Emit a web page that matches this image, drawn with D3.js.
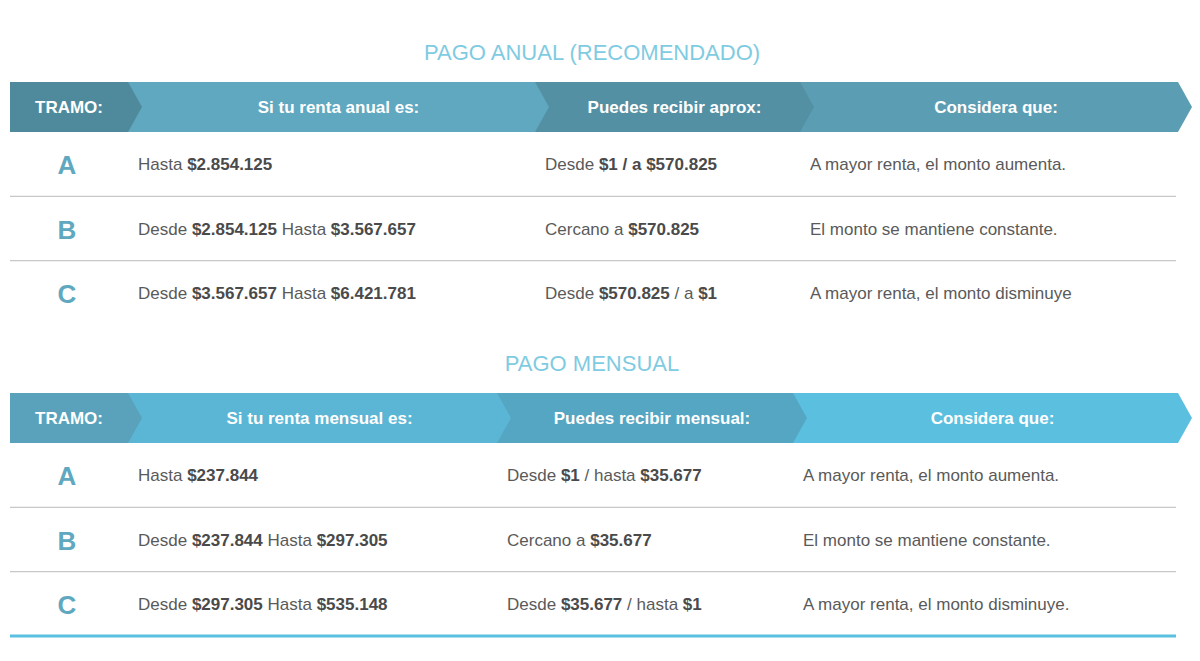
<!DOCTYPE html><html><head><meta charset="utf-8">
<script src="https://cdn.jsdelivr.net/npm/d3@7"></script>
<style>body{margin:0;background:#fff}text{font-family:"Liberation Sans",Arial,sans-serif}</style></head><body>
<svg id="c" width="1200" height="661"></svg>
<script>
const titles = ["PAGO ANUAL (RECOMENDADO)", "PAGO MENSUAL"];
const headersAnual = ["TRAMO:", "Si tu renta anual es:", "Puedes recibir aprox:", "Considera que:"];
const headersMensual = ["TRAMO:", "Si tu renta mensual es:", "Puedes recibir mensual:", "Considera que:"];
const tramos = ["A", "B", "C"];
const rentaAnual = ["Hasta **$2.854.125**", "Desde **$2.854.125** Hasta **$3.567.657**", "Desde **$3.567.657** Hasta **$6.421.781**"];
const recibeAnual = ["Desde **$1 / a $570.825**", "Cercano a **$570.825**", "Desde **$570.825** / a **$1**"];
const consideraAnual = ["A mayor renta, el monto aumenta.", "El monto se mantiene constante.", "A mayor renta, el monto disminuye"];
const rentaMensual = ["Hasta **$237.844**", "Desde **$237.844** Hasta **$297.305**", "Desde **$297.305** Hasta **$535.148**"];
const recibeMensual = ["Desde **$1** / hasta **$35.677**", "Cercano a **$35.677**", "Desde **$35.677** / hasta **$1**"];
const consideraMensual = ["A mayor renta, el monto aumenta.", "El monto se mantiene constante.", "A mayor renta, el monto disminuye."];

const svg = d3.select("#c");
const tables = [
  {title: titles[0], top: 82, heads: headersAnual, cols: [rentaAnual, recibeAnual, consideraAnual],
   bounds: [10, 128, 535, 800, 1178], colors: ["#4f8a9c", "#5fa8c0", "#5490a4", "#5b9db2"]},
  {title: titles[1], top: 393, heads: headersMensual, cols: [rentaMensual, recibeMensual, consideraMensual],
   bounds: [10, 128, 497, 793, 1178], colors: ["#5aa2bb", "#5bb5d4", "#55a6c2", "#5bbfe0"]}
];
const H = 50, tip = 14;
function rich(sel, s) {
  s.split("**").forEach((p, i) => { if (p) sel.append("tspan").attr("font-weight", i % 2 ? "bold" : "normal").attr("fill", i % 2 ? "#4a4a4a" : "#5a5a5a").text(p); });
}
tables.forEach(t => {
  svg.append("text").attr("x", 592).attr("y", t.top - 22).attr("text-anchor", "middle")
    .attr("font-size", 22).attr("fill", "#7fcbe2").text(t.title);
  const b = t.bounds;
  for (let i = 3; i >= 0; i--) {
    const x0 = b[i], x1 = b[i + 1], y0 = t.top, y1 = t.top + H;
    svg.append("path").attr("fill", t.colors[i])
      .attr("d", `M${x0},${y0}L${x1},${y0}L${x1 + tip},${(y0 + y1) / 2}L${x1},${y1}L${x0},${y1}Z`);
    const cx = i === 0 ? (x0 + x1) / 2 : (x0 + tip + x1) / 2;
    svg.append("text").attr("x", cx).attr("y", t.top + 31).attr("text-anchor", "middle")
      .attr("font-size", 17).attr("font-weight", "bold").attr("fill", "#fff").text(t.heads[i]);
  }
  const y = d3.scaleBand().domain(tramos).range([t.top + H, t.top + H + 193]);
  tramos.forEach((k, r) => {
    const cy = y(k) + y.bandwidth() / 2;
    svg.append("text").attr("x", 67).attr("y", cy + 10).attr("text-anchor", "middle")
      .attr("font-size", 26).attr("font-weight", "bold").attr("fill", "#5fa8c0").text(k);
    t.cols.forEach((col, c) => {
      const tx = c === 0 ? 138 : b[c + 1] + 10;
      rich(svg.append("text").attr("x", tx).attr("y", cy + 6).attr("font-size", 17), col[r]);
    });
    if (r < 2) svg.append("line").attr("x1", 10).attr("x2", 1176).attr("y1", y(k) + y.bandwidth()).attr("y2", y(k) + y.bandwidth())
      .attr("stroke", "#c8c8c8").attr("stroke-width", 1.2);
  });
});
svg.append("line").attr("x1", 10).attr("x2", 1176).attr("y1", 636).attr("y2", 636).attr("stroke", "#5bbfe0").attr("stroke-width", 3);
</script></body></html>
